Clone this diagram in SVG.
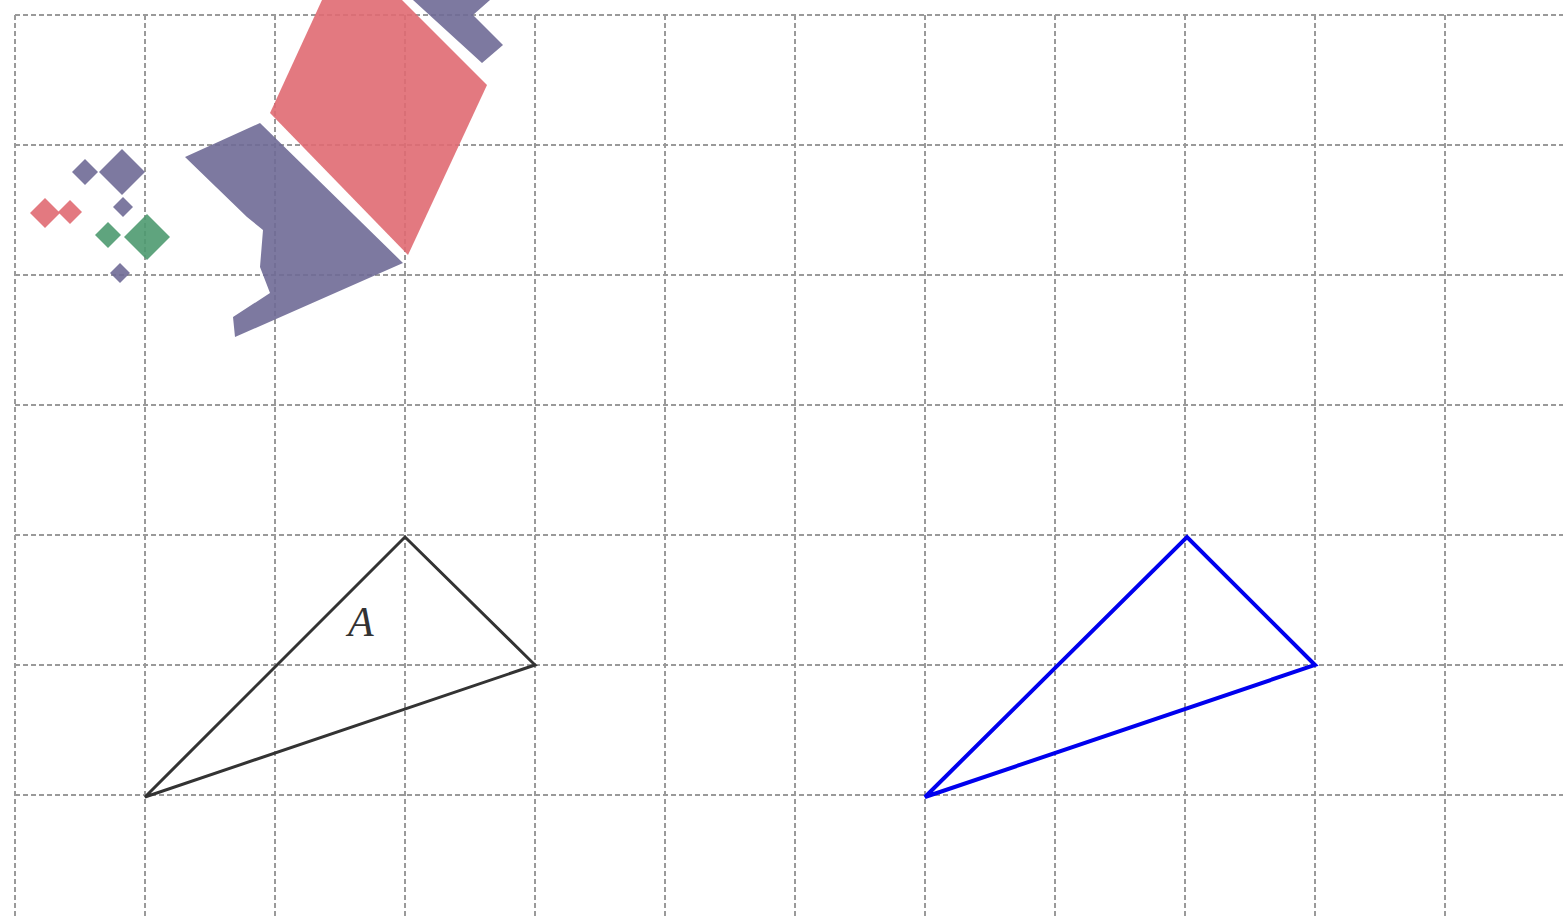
<svg xmlns="http://www.w3.org/2000/svg" width="1563" height="919" viewBox="0 0 1563 919">
<defs>
<style>
.grid{stroke:#9a9a9a;stroke-width:2;stroke-dasharray:5,3;fill:none}
.pur{fill:#6f6a96;opacity:0.9}
.red{fill:#e06a72;opacity:0.9}
.grn{fill:#4e9a70;opacity:0.9}
.tri{fill:none;stroke-linejoin:miter}
</style>
</defs>
<rect width="1563" height="919" fill="#fff"/>
<g id="grid">
<path class="grid" d="M15 15V919M145 15V919M275 15V919M405 15V919M535 15V919M665 15V919M795 15V919M925 15V919M1055 15V919M1185 15V919M1315 15V919M1445 15V919"/>
<path class="grid" d="M15 15H1563M15 145H1563M15 275H1563M15 405H1563M15 535H1563M15 665H1563M15 795H1563"/>
</g>
<g id="shapes">
<polygon class="red" points="322,0 402,0 487,85 408,255 270,113"/>
<polygon class="pur" points="413,0 490,0 473,15 503,45 482,63"/>
<polygon class="pur" points="185,157 260,123 403,263 235,337 233,317 270,293 260,267 263,230 247,217"/>
<polygon class="pur" points="85,159 98,172 85,185 72,172"/>
<polygon class="pur" points="122,149 145,172 122,195 99,172"/>
<polygon class="pur" points="123,197 133,207 123,217 113,207"/>
<polygon class="red" points="45,198 60,213 45,228 30,213"/>
<polygon class="red" points="70,200 82,212 70,224 58,212"/>
<polygon class="grn" points="108,222 121,235 108,248 95,235"/>
<polygon class="grn" points="147,214 170,237 147,260 124,237"/>
<polygon class="pur" points="120,263 130,273 120,283 110,273"/>
</g>
<g id="triangleA">
<polygon class="tri" points="145,797 405,537 535,665" stroke="#333" stroke-width="3"/>
<text x="348" y="636" font-family="Liberation Serif, serif" font-style="italic" font-size="42" fill="#333">A</text>
</g>
<g id="triangleB">
<polygon class="tri" points="925,797 1187,537 1315,665" stroke="#0000ee" stroke-width="4"/>
</g>
<g id="connectors"></g>
</svg>
